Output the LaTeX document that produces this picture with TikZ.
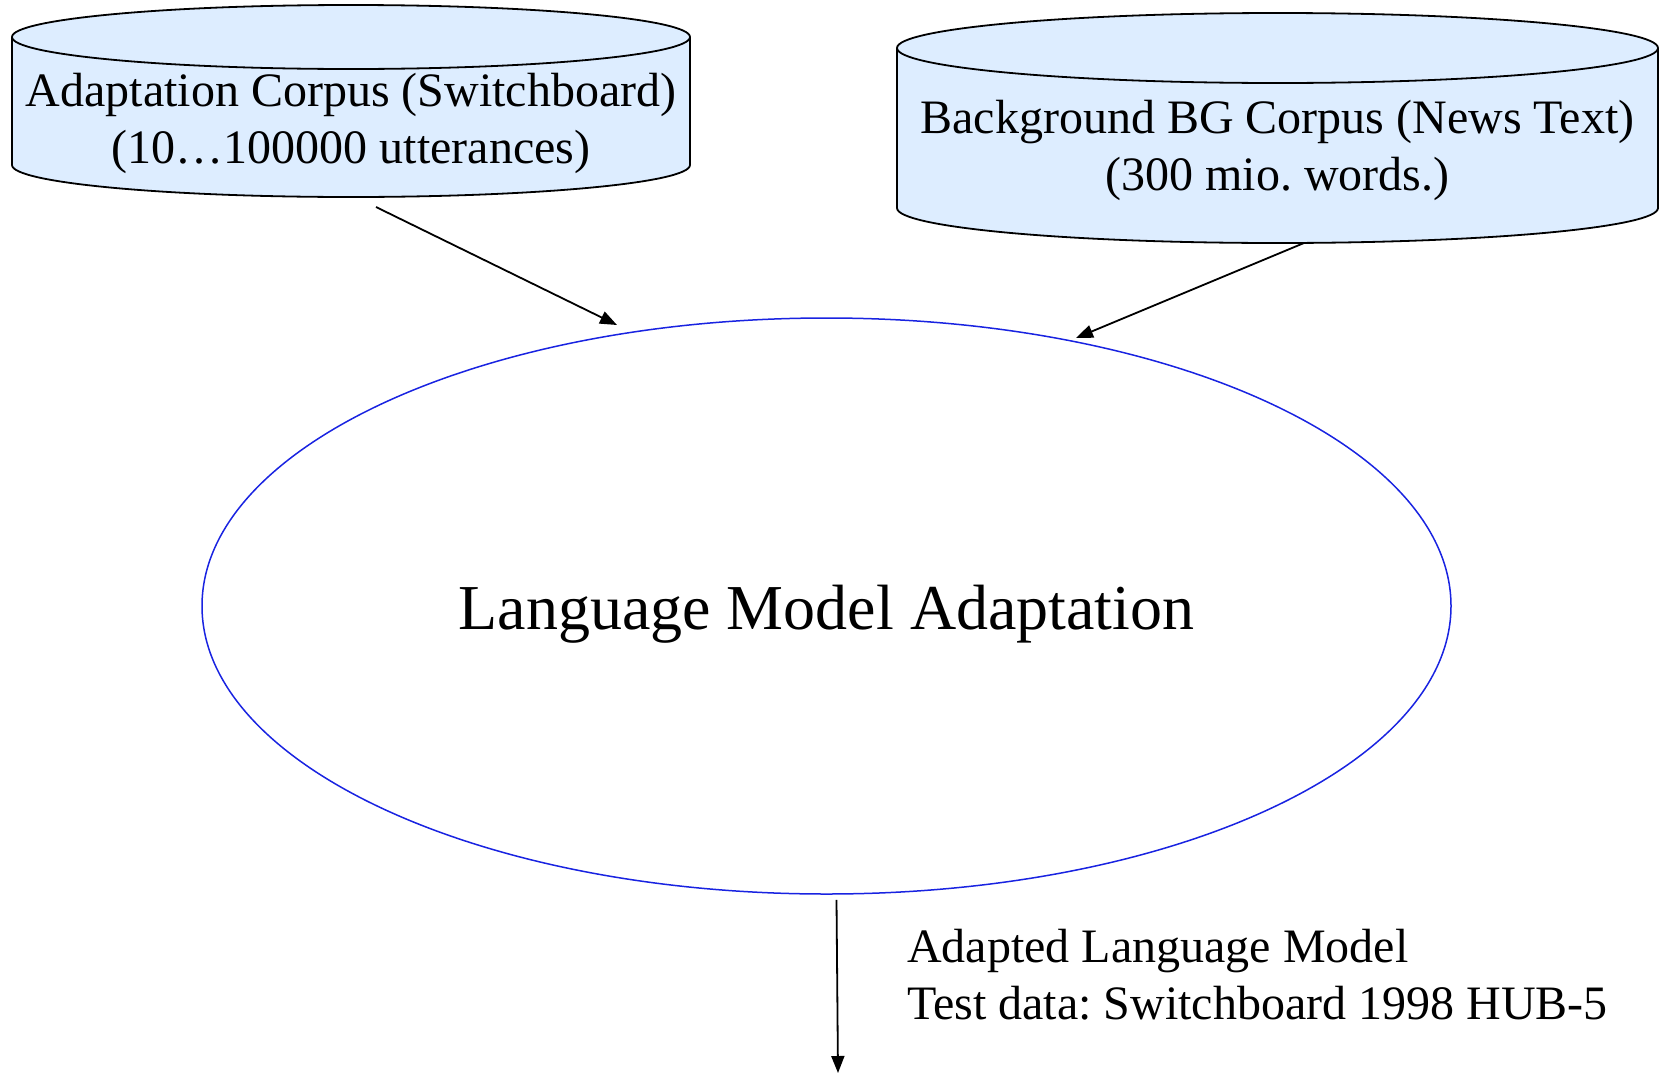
\documentclass[tikz,border=0pt]{standalone}
\usepackage{fontspec}
\setmainfont{Liberation Serif}
\usetikzlibrary{arrows.meta,shapes.geometric,calc}
\definecolor{cylfill}{RGB}{221,237,255}
\definecolor{ellblue}{RGB}{25,35,225}
\frenchspacing
\begin{document}
\begin{tikzpicture}[x=1pt,y=-1pt,
  cyltext/.style={align=center,inner sep=0pt,font=\fontsize{48}{57}\selectfont},
  cylbody/.style={fill=cylfill,draw=black,line width=1.8pt},
  arr/.style={line width=1.8pt,-{Triangle[length=17pt,width=13pt]}},
  procell/.style={ellipse,draw=ellblue,line width=1.5pt,minimum width=1249pt,minimum height=576pt,inner sep=0pt},
  outtext/.style={align=left,anchor=west,inner sep=0pt,font=\fontsize{48}{57}\selectfont}]
\useasboundingbox (0,0) rectangle (1662,1074);

% left cylinder: x 12..690, top ellipse centre y 37, bottom centre y 165
\draw[cylbody] (12,37) -- (12,165) arc[start angle=180,end angle=0,x radius=339,y radius=32]
  -- (690,37) arc[start angle=0,end angle=-180,x radius=339,y radius=32] -- cycle;
\draw[line width=1.8pt] (12,37) arc[start angle=180,end angle=0,x radius=339,y radius=32];
\node[cyltext] (adapt) at (351,123.5) {Adaptation Corpus (Switchboard)\\(10…100000 utterances)};

% right cylinder: x 897..1658, top centre y 48, bottom centre y 208
\draw[cylbody] (897,48) -- (897,208) arc[start angle=180,end angle=0,x radius=380.5,y radius=35]
  -- (1658,48) arc[start angle=0,end angle=-180,x radius=380.5,y radius=35] -- cycle;
\draw[line width=1.8pt] (897,48) arc[start angle=180,end angle=0,x radius=380.5,y radius=35];
\node[cyltext] (bg) at (1277.5,150) {Background BG Corpus (News Text)\\(300 mio. words.)};

% central process
\node[procell] (lma) at (826.5,606) {};
\node[font=\fontsize{64}{77}\selectfont,inner sep=0pt] (lmatext) at (826.5,614.5) {Language Model Adaptation};

% output label
\node[outtext] (out) at (907,975) {Adapted Language Model\\Test data: Switchboard 1998 HUB-5};

% connectors
\coordinate (s1) at (376,207);
\coordinate (t1) at (617,325);
\coordinate (s2) at (1304,243);
\coordinate (t2) at (1076,338);
\coordinate (t3) at (838,1073);
\draw[arr] (s1) -- (t1);
\draw[arr] (s2) -- (t2);
\draw[arr] ($(lma.south)+(10,5)$) -- (t3);
\end{tikzpicture}
\end{document}
